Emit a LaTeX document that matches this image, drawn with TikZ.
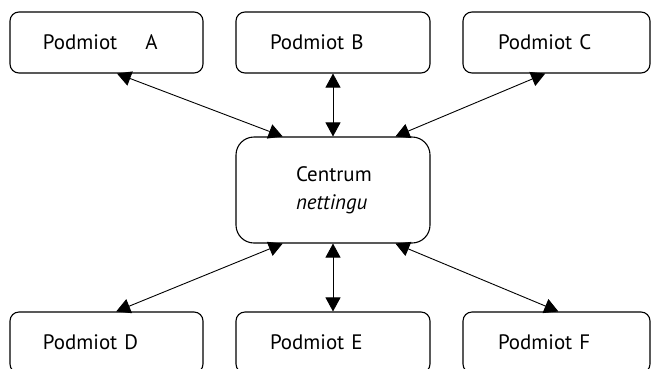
\documentclass[tikz,border=0pt]{standalone}
\usepackage{fontspec}
\setmainfont{PT Sans}
\usetikzlibrary{arrows.meta,calc}
\begin{document}
\begin{tikzpicture}[x=1bp,y=-1bp,
  party/.style={draw, line width=1.1bp, rounded corners=9bp,
    minimum height=61bp, align=left, inner xsep=0pt,
    font=\fontsize{21}{25}\selectfont},
  hub/.style={draw, line width=1.1bp, rounded corners=18bp,
    minimum height=106bp, align=left, inner xsep=0pt,
    font=\fontsize{21}{28}\selectfont},
  link/.style={line width=0.9bp, {Triangle[width=15bp,length=14bp]}-{Triangle[width=15bp,length=14bp]}}]
\clip (0,0) rectangle (651,368);
% parties above and below the clearing centre
\node[party, text width=193bp] (A) at (106.5,42.5) {\hspace*{33bp}Podmiot\hspace{28bp}A};
\node[party, text width=194bp] (B) at (333,42.5) {\hspace*{34bp}Podmiot B};
\node[party, text width=187bp] (C) at (556.5,42.5) {\hspace*{35bp}Podmiot C};
\node[hub, text width=194bp] (N) at (333,190) {\hspace*{60bp}Centrum\\\hspace*{60bp}\textit{nettingu}};
\node[party, text width=193bp] (D) at (106.5,342.5) {\hspace*{33bp}Podmiot D};
\node[party, text width=194bp] (E) at (333,342.5) {\hspace*{34bp}Podmiot E};
\node[party, text width=187bp] (F) at (556.5,342.5) {\hspace*{35bp}Podmiot F};
% two-way links
\draw[link] ($(A.south west)!0.554!(A.south east)$) -- ($(N.north west)!0.242!(N.north east)$);
\draw[link] (B.south) -- (N.north);
\draw[link] ($(C.south west)!0.44!(C.south east)$) -- ($(N.north west)!0.82!(N.north east)$);
\draw[link] ($(D.north west)!0.55!(D.north east)$) -- ($(N.south west)!0.242!(N.south east)$);
\draw[link] (E.north) -- (N.south);
\draw[link] ($(F.north west)!0.51!(F.north east)$) -- ($(N.south west)!0.82!(N.south east)$);
\end{tikzpicture}
\end{document}
